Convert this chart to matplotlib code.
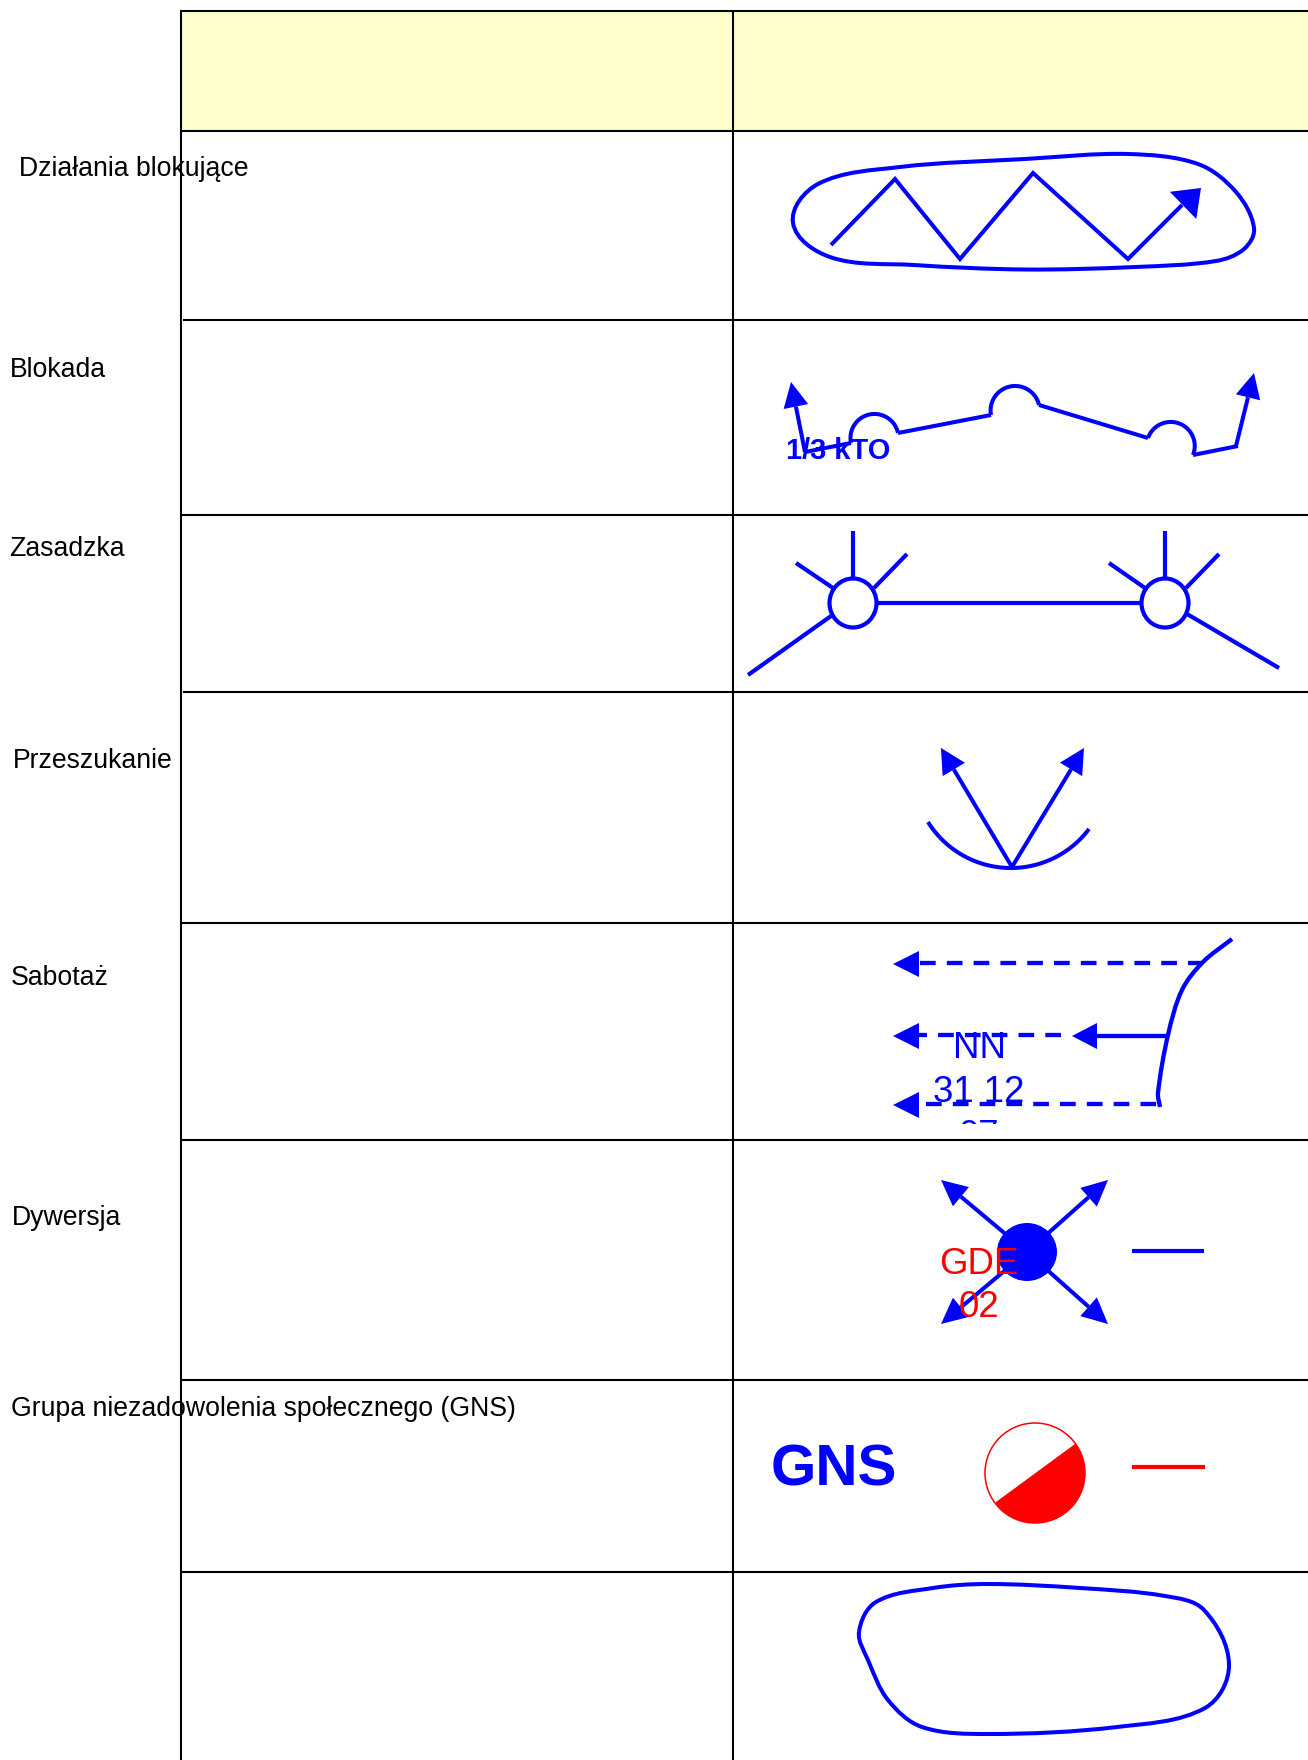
import matplotlib
matplotlib.use("Agg")
import matplotlib.pyplot as plt
import numpy as np
from matplotlib.patches import Ellipse, PathPatch, Polygon, Rectangle
from matplotlib.path import Path

plt.rcParams["font.family"] = ["Liberation Sans", "DejaVu Sans"]
plt.rcParams["lines.scale_dashes"] = False

BLUE = "#0000FF"
RED = "#FF0000"
LW = 2.9

# table grid, in pixels of the page
TABLE_LEFT = 181
TABLE_MID = 733
TABLE_TOP = 11.5
HEADER_BOTTOM = 131.5
ROW_LINES = [320, 515, 692, 923.5, 1140, 1380, 1572]
ROW_STARTS = [183, 181, 183, 181, 182, 181, 181]

LABELS = ["Działania blokujące", "Blokada", "Zasadzka", "Przeszukanie", "Sabotaż",
          "Dywersja", "Grupa niezadowolenia społecznego (GNS)"]
LABEL_X = [19, 10, 9.5, 13, 11, 12, 11]
LABEL_Y = [176, 377, 556, 768, 985, 1225, 1416]

BLOB_TOP = [(793, 223), (818, 184), (900, 167), (1025, 159), (1128, 154), (1198, 164), (1236, 192), (1254, 228),
            (1244, 249), (1216, 261), (1135, 267), (1025, 269.5), (914, 265), (830, 257)]
ZIGZAG = [(831, 245), (895, 179), (960, 259), (1033, 173), (1128, 259), (1182, 205)]
ZIGZAG_TIP = (1201, 188)

BLOCK_LEFT_ARROW = [(805, 452), (791, 382)]
BLOCK_RIGHT_ARROW = [(1236, 446), (1254, 373)]
BLOCK_LINES = [[(805, 452), (851, 443)], [(898, 433), (991, 415)],
               [(1039, 405), (1148, 438)], [(1193, 455), (1238, 446)]]
BLOCK_ARCS = [[(851, 443), (873, 414), (898, 433)],
              [(991, 415), (1014, 386), (1039, 405)],
              [(1148, 438), (1169, 422), (1193, 455)]]

AMBUSH_CIRCLES = [(853, 603), (1165, 603)]
AMBUSH_LINES = [[(877, 603), (1141, 603)],
                [(853, 578), (853, 531)], [(833, 588), (796, 563)],
                [(874, 588), (907, 554)], [(831, 616), (748, 675)],
                [(1165, 578), (1165, 531)], [(1145, 588), (1109, 563)],
                [(1186, 588), (1219, 554)], [(1187, 614), (1279, 668)]]

SEARCH_FROM = (1012, 867)
SEARCH_TIPS = [(941, 748), (1084, 748)]
SEARCH_ARC = [(928, 822), (1012, 868), (1089, 829)]

SAB_CURVE = [(1232, 939), (1203, 962), (1182, 990), (1168, 1035), (1158, 1093), (1160, 1107)]
SAB_DASHED = [[(920, 963), (1203, 963)], [(1061, 1035), (919, 1035)], [(926, 1104), (1158, 1104)]]
SAB_TIPS = [(893, 964), (893, 1036), (893, 1105)]
SAB_SOLID_TAIL = (1167, 1036)
SAB_SOLID_TIP = (1072, 1036)
SAB_TEXT = ["NN", "31 12", "07"]
SAB_TEXT_Y = [1058, 1102, 1146]
SAB_CLIP_BOTTOM = 1124

DIV_CENTER = (1027, 1252)
DIV_TIPS = [(941, 1180), (1108, 1180), (941, 1324), (1108, 1324)]
DIV_DASH = [(1132, 1251), (1204, 1251)]
DIV_TEXT = ["GDE", "02"]
DIV_TEXT_Y = [1274, 1317]

GNS_CENTER = (1035, 1473)
GNS_CHORD = [(1075, 1444), (996, 1502)]
GNS_DASH = [(1132, 1467), (1205, 1467)]

BLOB_BOTTOM = [(859, 1632), (876, 1602), (933, 1588), (988, 1584), (1080, 1588), (1165, 1596), (1204, 1610),
               (1229, 1665), (1205, 1708), (1117, 1727), (988, 1734), (922, 1727), (888, 1700), (868, 1660)]


def spline_path(pts, closed=False):
    # smooth curve through the points; handles a third of the segment long so
    # uneven spacing does not make it wobble
    p = np.array(pts, dtype=float)
    n = len(p)
    tang = []
    for i in range(n):
        if closed:
            d = p[(i + 1) % n] - p[(i - 1) % n]
        else:
            d = p[min(i + 1, n - 1)] - p[max(i - 1, 0)]
        tang.append(d / np.hypot(*d))
    verts = [p[0]]
    codes = [Path.MOVETO]
    for i in range(n if closed else n - 1):
        j = (i + 1) % n
        h = np.hypot(*(p[j] - p[i])) / 3
        verts += [p[i] + tang[i] * h, p[j] - tang[j] * h, p[j]]
        codes += [Path.CURVE4] * 3
    return Path(verts, codes)


def draw_spline(ax, pts, closed=False, lw=LW):
    ax.add_patch(PathPatch(spline_path(pts, closed), fc="none", ec=BLUE, lw=lw))


def draw_arc(ax, pts, lw=LW):
    # circle through three points, drawn from the first to the last
    (x1, y1), (x2, y2), (x3, y3) = pts
    d = 2 * (x1 * (y2 - y3) + x2 * (y3 - y1) + x3 * (y1 - y2))
    ux = ((x1**2 + y1**2) * (y2 - y3) + (x2**2 + y2**2) * (y3 - y1) + (x3**2 + y3**2) * (y1 - y2)) / d
    uy = ((x1**2 + y1**2) * (x3 - x2) + (x2**2 + y2**2) * (x1 - x3) + (x3**2 + y3**2) * (x2 - x1)) / d
    r = np.hypot(x1 - ux, y1 - uy)
    a1, a2, a3 = [np.arctan2(y - uy, x - ux) for x, y in pts]
    # keep the sweep on the side of the middle point
    a2 = a1 + (a2 - a1) % (2 * np.pi)
    a3 = a1 + (a3 - a1) % (2 * np.pi)
    if a2 > a3:
        a3 -= 2 * np.pi
    t = np.linspace(a1, a3, 60)
    ax.plot(ux + r * np.cos(t), uy + r * np.sin(t), color=BLUE, lw=lw, solid_capstyle="butt")


def draw_arrow(ax, tail, tip, head_len=25, head_w=25, lw=LW, shaft=True):
    tail = np.array(tail, dtype=float)
    tip = np.array(tip, dtype=float)
    u = (tip - tail) / np.hypot(*(tip - tail))
    n = np.array([-u[1], u[0]])
    base = tip - u * head_len
    if shaft:
        ax.plot([tail[0], base[0]], [tail[1], base[1]], color=BLUE, lw=lw, solid_capstyle="butt")
    ax.add_patch(Polygon([tip, base + n * head_w / 2, base - n * head_w / 2], fc=BLUE, ec="none"))


def draw_lines(ax, segs, lw=LW):
    for s in segs:
        ax.plot([s[0][0], s[1][0]], [s[0][1], s[1][1]], color=BLUE, lw=lw, solid_capstyle="butt")


fig = plt.figure(figsize=(13.08, 17.6), dpi=100)
ax = fig.add_axes([0, 0, 1, 1])
ax.set_xlim(0, 1308)
ax.set_ylim(1760, 0)
ax.axis("off")

# table
ax.add_patch(Rectangle((TABLE_LEFT, TABLE_TOP), 1308 - TABLE_LEFT, HEADER_BOTTOM - TABLE_TOP,
                       fc="#FFFFCC", ec="none"))
grid = dict(color="black", lw=1.5, solid_capstyle="butt")
ax.plot([TABLE_LEFT, 1308], [TABLE_TOP, TABLE_TOP], **grid)
ax.plot([TABLE_LEFT, 1308], [HEADER_BOTTOM, HEADER_BOTTOM], **grid)
ax.plot([TABLE_LEFT, TABLE_LEFT], [TABLE_TOP - 1, 1760], **grid)
ax.plot([TABLE_MID, TABLE_MID], [TABLE_TOP, 1760], **grid)
for y, x0 in zip(ROW_LINES, ROW_STARTS):
    ax.plot([x0, 1308], [y, y], **grid)

for name, x, y in zip(LABELS, LABEL_X, LABEL_Y):
    ax.text(x, y, name, fontsize=19.2, color="black", va="baseline", ha="left")

# Działania blokujące
draw_spline(ax, BLOB_TOP, closed=True)
ax.plot(*zip(*ZIGZAG), color=BLUE, lw=LW, solid_joinstyle="miter", solid_capstyle="butt")
draw_arrow(ax, ZIGZAG[-2], ZIGZAG_TIP, head_len=25, head_w=38, shaft=False)

# Blokada
draw_lines(ax, BLOCK_LINES)
for a in BLOCK_ARCS:
    draw_arc(ax, a)
draw_arrow(ax, *BLOCK_LEFT_ARROW, head_len=25, head_w=25)
draw_arrow(ax, *BLOCK_RIGHT_ARROW, head_len=25, head_w=25)
ax.text(786, 459, "1/3 kTO", fontsize=20.9, fontweight="bold", color=BLUE, va="baseline", ha="left")

# Zasadzka
draw_lines(ax, AMBUSH_LINES, lw=3.0)
for c in AMBUSH_CIRCLES:
    ax.add_patch(Ellipse(c, 47, 49, fc="none", ec=BLUE, lw=3.0))

# Przeszukanie
for tip in SEARCH_TIPS:
    draw_arrow(ax, SEARCH_FROM, tip, head_len=25, head_w=26)
draw_arc(ax, SEARCH_ARC)

# Sabotaż
for seg in SAB_DASHED:
    ax.plot([seg[0][0], seg[1][0]], [seg[0][1], seg[1][1]], color=BLUE, lw=3.1,
            dashes=(11.3, 8.0), dash_capstyle="butt")
for tip, seg in zip(SAB_TIPS, SAB_DASHED):
    draw_arrow(ax, (1200, tip[1]), tip, head_len=26, head_w=26, shaft=False)
draw_arrow(ax, SAB_SOLID_TAIL, SAB_SOLID_TIP, head_len=25, head_w=26, lw=3.1)
draw_spline(ax, SAB_CURVE, lw=3.1)
clip = Rectangle((TABLE_MID, ROW_LINES[3]), 1308 - TABLE_MID, SAB_CLIP_BOTTOM - ROW_LINES[3],
                 transform=ax.transData)
for line, y in zip(SAB_TEXT, SAB_TEXT_Y):
    t = ax.text(979, y, line, fontsize=26.4, color=BLUE, va="baseline", ha="center")
    t.set_clip_on(True)
    t.set_clip_path(clip)

# Dywersja
for tip in DIV_TIPS:
    draw_arrow(ax, DIV_CENTER, tip, head_len=26, head_w=25)
ax.add_patch(Ellipse(DIV_CENTER, 60, 58, fc=BLUE, ec="none", zorder=3))
draw_lines(ax, [DIV_DASH], lw=3.0)
for line, y in zip(DIV_TEXT, DIV_TEXT_Y):
    ax.text(979, y, line, fontsize=26.4, color=RED, va="baseline", ha="center", zorder=4)

# GNS
ax.text(771, 1486, "GNS", fontsize=42, fontweight="bold", color=BLUE, va="baseline", ha="left")
ax.add_patch(Ellipse(GNS_CENTER, 100, 100, fc="none", ec=RED, lw=1.1))
seg = Polygon([GNS_CHORD[0], GNS_CHORD[1], (GNS_CHORD[1][0], 1540), (1100, 1540), (1100, GNS_CHORD[0][1])],
              fc=RED, ec="none")
ax.add_patch(seg)
seg.set_clip_path(Ellipse(GNS_CENTER, 100, 100, transform=ax.transData))
ax.plot(*zip(*GNS_DASH), color=RED, lw=3.0, solid_capstyle="butt")

# last row
draw_spline(ax, BLOB_BOTTOM, closed=True)

fig.savefig("out.png", dpi=100)
plt.close(fig)
